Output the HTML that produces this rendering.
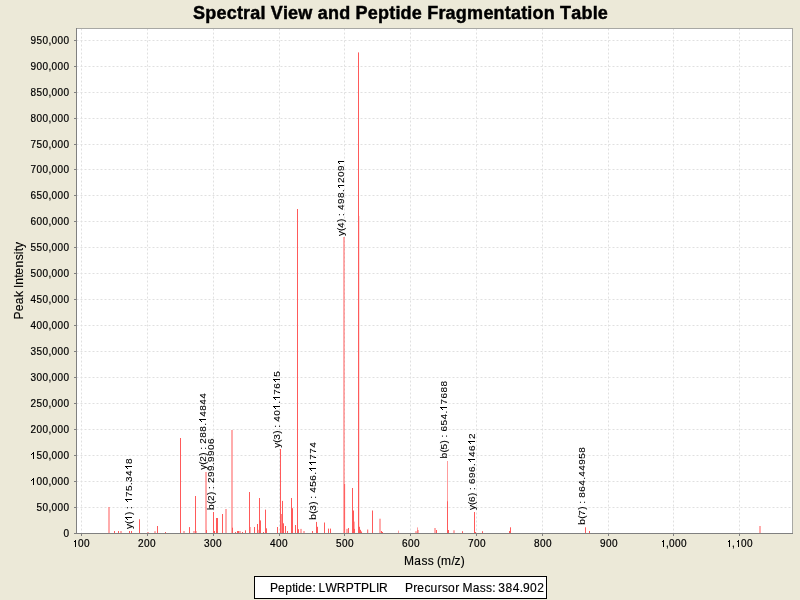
<!DOCTYPE html>
<html><head><meta charset="utf-8"><style>
html,body{margin:0;padding:0;background:#ECE9D8;}
svg{display:block;will-change:transform;}
text{font-family:"Liberation Sans",sans-serif;fill:#000;stroke:#000;stroke-width:0.15px;}
</style></head><body>
<svg width="800" height="600" viewBox="0 0 800 600" shape-rendering="crispEdges">
<rect x="0" y="0" width="800" height="600" fill="#ECE9D8"/>
<rect x="76" y="28" width="716" height="505" fill="#fff"/>
<rect x="74" y="533" width="2" height="1" fill="#808080"/>
<g transform="translate(63.5,537)"><text xml:space="preserve" x="0" y="0" style="font-size:10px;stroke-width:0.2px;">0</text></g>
<line x1="76" y1="507.5" x2="792" y2="507.5" stroke="#e0e0e0" stroke-width="1" stroke-dasharray="2 2" stroke-dashoffset="-0.5" shape-rendering="auto"/>
<rect x="74" y="507" width="2" height="1" fill="#808080"/>
<g transform="translate(36.5,511)"><text xml:space="preserve" x="0 6 12 15 21 27" y="0" style="font-size:10px;stroke-width:0.2px;">50,000</text></g>
<line x1="76" y1="481.5" x2="792" y2="481.5" stroke="#e0e0e0" stroke-width="1" stroke-dasharray="2 2" stroke-dashoffset="-0.5" shape-rendering="auto"/>
<rect x="74" y="481" width="2" height="1" fill="#808080"/>
<g transform="translate(30.5,485)"><text xml:space="preserve" x="6 12 18 21 27 33" y="0" style="font-size:10px;stroke-width:0.2px;">00,000</text><path transform="translate(0,0)" d="M3.72 0H2.84V-5.6C2.55-5.3 2.2-5.0 1.8-4.75C1.5-4.55 1.2-4.4 0.95-4.3V-5.1C1.45-5.35 1.8-5.65 2.2-6.05C2.6-6.45 2.95-6.9 3.16-7.16H3.72Z"/></g>
<line x1="76" y1="455.5" x2="792" y2="455.5" stroke="#e0e0e0" stroke-width="1" stroke-dasharray="2 2" stroke-dashoffset="-0.5" shape-rendering="auto"/>
<rect x="74" y="455" width="2" height="1" fill="#808080"/>
<g transform="translate(30.5,459)"><text xml:space="preserve" x="6 12 18 21 27 33" y="0" style="font-size:10px;stroke-width:0.2px;">50,000</text><path transform="translate(0,0)" d="M3.72 0H2.84V-5.6C2.55-5.3 2.2-5.0 1.8-4.75C1.5-4.55 1.2-4.4 0.95-4.3V-5.1C1.45-5.35 1.8-5.65 2.2-6.05C2.6-6.45 2.95-6.9 3.16-7.16H3.72Z"/></g>
<line x1="76" y1="429.5" x2="792" y2="429.5" stroke="#e0e0e0" stroke-width="1" stroke-dasharray="2 2" stroke-dashoffset="-0.5" shape-rendering="auto"/>
<rect x="74" y="429" width="2" height="1" fill="#808080"/>
<g transform="translate(30.5,433)"><text xml:space="preserve" x="0 6 12 18 21 27 33" y="0" style="font-size:10px;stroke-width:0.2px;">200,000</text></g>
<line x1="76" y1="403.5" x2="792" y2="403.5" stroke="#e0e0e0" stroke-width="1" stroke-dasharray="2 2" stroke-dashoffset="-0.5" shape-rendering="auto"/>
<rect x="74" y="403" width="2" height="1" fill="#808080"/>
<g transform="translate(30.5,407)"><text xml:space="preserve" x="0 6 12 18 21 27 33" y="0" style="font-size:10px;stroke-width:0.2px;">250,000</text></g>
<line x1="76" y1="377.5" x2="792" y2="377.5" stroke="#e0e0e0" stroke-width="1" stroke-dasharray="2 2" stroke-dashoffset="-0.5" shape-rendering="auto"/>
<rect x="74" y="377" width="2" height="1" fill="#808080"/>
<g transform="translate(30.5,381)"><text xml:space="preserve" x="0 6 12 18 21 27 33" y="0" style="font-size:10px;stroke-width:0.2px;">300,000</text></g>
<line x1="76" y1="351.5" x2="792" y2="351.5" stroke="#e0e0e0" stroke-width="1" stroke-dasharray="2 2" stroke-dashoffset="-0.5" shape-rendering="auto"/>
<rect x="74" y="351" width="2" height="1" fill="#808080"/>
<g transform="translate(30.5,355)"><text xml:space="preserve" x="0 6 12 18 21 27 33" y="0" style="font-size:10px;stroke-width:0.2px;">350,000</text></g>
<line x1="76" y1="325.5" x2="792" y2="325.5" stroke="#e0e0e0" stroke-width="1" stroke-dasharray="2 2" stroke-dashoffset="-0.5" shape-rendering="auto"/>
<rect x="74" y="325" width="2" height="1" fill="#808080"/>
<g transform="translate(30.5,329)"><text xml:space="preserve" x="0 6 12 18 21 27 33" y="0" style="font-size:10px;stroke-width:0.2px;">400,000</text></g>
<line x1="76" y1="299.5" x2="792" y2="299.5" stroke="#e0e0e0" stroke-width="1" stroke-dasharray="2 2" stroke-dashoffset="-0.5" shape-rendering="auto"/>
<rect x="74" y="299" width="2" height="1" fill="#808080"/>
<g transform="translate(30.5,303)"><text xml:space="preserve" x="0 6 12 18 21 27 33" y="0" style="font-size:10px;stroke-width:0.2px;">450,000</text></g>
<line x1="76" y1="273.5" x2="792" y2="273.5" stroke="#e0e0e0" stroke-width="1" stroke-dasharray="2 2" stroke-dashoffset="-0.5" shape-rendering="auto"/>
<rect x="74" y="273" width="2" height="1" fill="#808080"/>
<g transform="translate(30.5,277)"><text xml:space="preserve" x="0 6 12 18 21 27 33" y="0" style="font-size:10px;stroke-width:0.2px;">500,000</text></g>
<line x1="76" y1="247.5" x2="792" y2="247.5" stroke="#e0e0e0" stroke-width="1" stroke-dasharray="2 2" stroke-dashoffset="-0.5" shape-rendering="auto"/>
<rect x="74" y="247" width="2" height="1" fill="#808080"/>
<g transform="translate(30.5,251)"><text xml:space="preserve" x="0 6 12 18 21 27 33" y="0" style="font-size:10px;stroke-width:0.2px;">550,000</text></g>
<line x1="76" y1="221.5" x2="792" y2="221.5" stroke="#e0e0e0" stroke-width="1" stroke-dasharray="2 2" stroke-dashoffset="-0.5" shape-rendering="auto"/>
<rect x="74" y="221" width="2" height="1" fill="#808080"/>
<g transform="translate(30.5,225)"><text xml:space="preserve" x="0 6 12 18 21 27 33" y="0" style="font-size:10px;stroke-width:0.2px;">600,000</text></g>
<line x1="76" y1="195.5" x2="792" y2="195.5" stroke="#e0e0e0" stroke-width="1" stroke-dasharray="2 2" stroke-dashoffset="-0.5" shape-rendering="auto"/>
<rect x="74" y="195" width="2" height="1" fill="#808080"/>
<g transform="translate(30.5,199)"><text xml:space="preserve" x="0 6 12 18 21 27 33" y="0" style="font-size:10px;stroke-width:0.2px;">650,000</text></g>
<line x1="76" y1="169.5" x2="792" y2="169.5" stroke="#e0e0e0" stroke-width="1" stroke-dasharray="2 2" stroke-dashoffset="-0.5" shape-rendering="auto"/>
<rect x="74" y="169" width="2" height="1" fill="#808080"/>
<g transform="translate(30.5,173)"><text xml:space="preserve" x="0 6 12 18 21 27 33" y="0" style="font-size:10px;stroke-width:0.2px;">700,000</text></g>
<line x1="76" y1="144.5" x2="792" y2="144.5" stroke="#e0e0e0" stroke-width="1" stroke-dasharray="2 2" stroke-dashoffset="-0.5" shape-rendering="auto"/>
<rect x="74" y="144" width="2" height="1" fill="#808080"/>
<g transform="translate(30.5,148)"><text xml:space="preserve" x="0 6 12 18 21 27 33" y="0" style="font-size:10px;stroke-width:0.2px;">750,000</text></g>
<line x1="76" y1="118.5" x2="792" y2="118.5" stroke="#e0e0e0" stroke-width="1" stroke-dasharray="2 2" stroke-dashoffset="-0.5" shape-rendering="auto"/>
<rect x="74" y="118" width="2" height="1" fill="#808080"/>
<g transform="translate(30.5,122)"><text xml:space="preserve" x="0 6 12 18 21 27 33" y="0" style="font-size:10px;stroke-width:0.2px;">800,000</text></g>
<line x1="76" y1="92.5" x2="792" y2="92.5" stroke="#e0e0e0" stroke-width="1" stroke-dasharray="2 2" stroke-dashoffset="-0.5" shape-rendering="auto"/>
<rect x="74" y="92" width="2" height="1" fill="#808080"/>
<g transform="translate(30.5,96)"><text xml:space="preserve" x="0 6 12 18 21 27 33" y="0" style="font-size:10px;stroke-width:0.2px;">850,000</text></g>
<line x1="76" y1="66.5" x2="792" y2="66.5" stroke="#e0e0e0" stroke-width="1" stroke-dasharray="2 2" stroke-dashoffset="-0.5" shape-rendering="auto"/>
<rect x="74" y="66" width="2" height="1" fill="#808080"/>
<g transform="translate(30.5,70)"><text xml:space="preserve" x="0 6 12 18 21 27 33" y="0" style="font-size:10px;stroke-width:0.2px;">900,000</text></g>
<line x1="76" y1="40.5" x2="792" y2="40.5" stroke="#e0e0e0" stroke-width="1" stroke-dasharray="2 2" stroke-dashoffset="-0.5" shape-rendering="auto"/>
<rect x="74" y="40" width="2" height="1" fill="#808080"/>
<g transform="translate(30.5,44)"><text xml:space="preserve" x="0 6 12 18 21 27 33" y="0" style="font-size:10px;stroke-width:0.2px;">950,000</text></g>
<line x1="81.5" y1="28" x2="81.5" y2="533" stroke="#e0e0e0" stroke-width="1" stroke-dasharray="2 2" stroke-dashoffset="-0.5" shape-rendering="auto"/>
<rect x="81" y="533" width="1" height="3" fill="#808080"/>
<g transform="translate(72,547)"><text xml:space="preserve" x="6 12" y="0" style="font-size:10px;stroke-width:0.2px;">00</text><path transform="translate(0,0)" d="M3.72 0H2.84V-5.6C2.55-5.3 2.2-5.0 1.8-4.75C1.5-4.55 1.2-4.4 0.95-4.3V-5.1C1.45-5.35 1.8-5.65 2.2-6.05C2.6-6.45 2.95-6.9 3.16-7.16H3.72Z"/></g>
<line x1="147.5" y1="28" x2="147.5" y2="533" stroke="#e0e0e0" stroke-width="1" stroke-dasharray="2 2" stroke-dashoffset="-0.5" shape-rendering="auto"/>
<rect x="147" y="533" width="1" height="3" fill="#808080"/>
<g transform="translate(138,547)"><text xml:space="preserve" x="0 6 12" y="0" style="font-size:10px;stroke-width:0.2px;">200</text></g>
<line x1="213.5" y1="28" x2="213.5" y2="533" stroke="#e0e0e0" stroke-width="1" stroke-dasharray="2 2" stroke-dashoffset="-0.5" shape-rendering="auto"/>
<rect x="213" y="533" width="1" height="3" fill="#808080"/>
<g transform="translate(204,547)"><text xml:space="preserve" x="0 6 12" y="0" style="font-size:10px;stroke-width:0.2px;">300</text></g>
<line x1="279.5" y1="28" x2="279.5" y2="533" stroke="#e0e0e0" stroke-width="1" stroke-dasharray="2 2" stroke-dashoffset="-0.5" shape-rendering="auto"/>
<rect x="279" y="533" width="1" height="3" fill="#808080"/>
<g transform="translate(270,547)"><text xml:space="preserve" x="0 6 12" y="0" style="font-size:10px;stroke-width:0.2px;">400</text></g>
<line x1="344.5" y1="28" x2="344.5" y2="533" stroke="#e0e0e0" stroke-width="1" stroke-dasharray="2 2" stroke-dashoffset="-0.5" shape-rendering="auto"/>
<rect x="344" y="533" width="1" height="3" fill="#808080"/>
<g transform="translate(336,547)"><text xml:space="preserve" x="0 6 12" y="0" style="font-size:10px;stroke-width:0.2px;">500</text></g>
<line x1="410.5" y1="28" x2="410.5" y2="533" stroke="#e0e0e0" stroke-width="1" stroke-dasharray="2 2" stroke-dashoffset="-0.5" shape-rendering="auto"/>
<rect x="410" y="533" width="1" height="3" fill="#808080"/>
<g transform="translate(402,547)"><text xml:space="preserve" x="0 6 12" y="0" style="font-size:10px;stroke-width:0.2px;">600</text></g>
<line x1="476.5" y1="28" x2="476.5" y2="533" stroke="#e0e0e0" stroke-width="1" stroke-dasharray="2 2" stroke-dashoffset="-0.5" shape-rendering="auto"/>
<rect x="476" y="533" width="1" height="3" fill="#808080"/>
<g transform="translate(468,547)"><text xml:space="preserve" x="0 6 12" y="0" style="font-size:10px;stroke-width:0.2px;">700</text></g>
<line x1="542.5" y1="28" x2="542.5" y2="533" stroke="#e0e0e0" stroke-width="1" stroke-dasharray="2 2" stroke-dashoffset="-0.5" shape-rendering="auto"/>
<rect x="542" y="533" width="1" height="3" fill="#808080"/>
<g transform="translate(534,547)"><text xml:space="preserve" x="0 6 12" y="0" style="font-size:10px;stroke-width:0.2px;">800</text></g>
<line x1="608.5" y1="28" x2="608.5" y2="533" stroke="#e0e0e0" stroke-width="1" stroke-dasharray="2 2" stroke-dashoffset="-0.5" shape-rendering="auto"/>
<rect x="608" y="533" width="1" height="3" fill="#808080"/>
<g transform="translate(600,547)"><text xml:space="preserve" x="0 6 12" y="0" style="font-size:10px;stroke-width:0.2px;">900</text></g>
<line x1="673.5" y1="28" x2="673.5" y2="533" stroke="#e0e0e0" stroke-width="1" stroke-dasharray="2 2" stroke-dashoffset="-0.5" shape-rendering="auto"/>
<rect x="673" y="533" width="1" height="3" fill="#808080"/>
<g transform="translate(660,547)"><text xml:space="preserve" x="6 9 15 21" y="0" style="font-size:10px;stroke-width:0.2px;">,000</text><path transform="translate(0,0)" d="M3.72 0H2.84V-5.6C2.55-5.3 2.2-5.0 1.8-4.75C1.5-4.55 1.2-4.4 0.95-4.3V-5.1C1.45-5.35 1.8-5.65 2.2-6.05C2.6-6.45 2.95-6.9 3.16-7.16H3.72Z"/></g>
<line x1="739.5" y1="28" x2="739.5" y2="533" stroke="#e0e0e0" stroke-width="1" stroke-dasharray="2 2" stroke-dashoffset="-0.5" shape-rendering="auto"/>
<rect x="739" y="533" width="1" height="3" fill="#808080"/>
<g transform="translate(726,547)"><text xml:space="preserve" x="6 15 21" y="0" style="font-size:10px;stroke-width:0.2px;">,00</text><path transform="translate(0,0)" d="M3.72 0H2.84V-5.6C2.55-5.3 2.2-5.0 1.8-4.75C1.5-4.55 1.2-4.4 0.95-4.3V-5.1C1.45-5.35 1.8-5.65 2.2-6.05C2.6-6.45 2.95-6.9 3.16-7.16H3.72Z"/><path transform="translate(9,0)" d="M3.72 0H2.84V-5.6C2.55-5.3 2.2-5.0 1.8-4.75C1.5-4.55 1.2-4.4 0.95-4.3V-5.1C1.45-5.35 1.8-5.65 2.2-6.05C2.6-6.45 2.95-6.9 3.16-7.16H3.72Z"/></g>
<g shape-rendering="auto">
<rect x="108.50" y="507" width="1" height="26" fill="#ff5a5a"/>
<rect x="114.00" y="531" width="1" height="2" fill="#ff5a5a"/>
<rect x="118.00" y="531" width="1" height="2" fill="#ff5a5a"/>
<rect x="120.50" y="531" width="1" height="2" fill="#ff5a5a"/>
<rect x="129.00" y="531" width="1" height="2" fill="#ff5a5a"/>
<rect x="131.00" y="531" width="1" height="2" fill="#ff5a5a"/>
<rect x="139.00" y="519.25" width="1" height="13.75" fill="#ff5a5a"/>
<rect x="147.50" y="532" width="1" height="1" fill="#ff5a5a"/>
<rect x="154.50" y="531.2" width="1" height="1.7999999999999545" fill="#ff5a5a"/>
<rect x="157.00" y="526" width="1" height="7" fill="#ff5a5a"/>
<rect x="165.00" y="532" width="1" height="1" fill="#ff5a5a"/>
<rect x="180.00" y="438" width="1" height="95" fill="#ff5a5a"/>
<rect x="183.50" y="531" width="1" height="2" fill="#ff5a5a"/>
<rect x="189.00" y="527.1" width="1" height="5.899999999999977" fill="#ff5a5a"/>
<rect x="195.00" y="496" width="1" height="37" fill="#ff5a5a"/>
<rect x="193.50" y="531" width="1" height="2" fill="#ff5a5a"/>
<rect x="195.50" y="531" width="1" height="2" fill="#ff5a5a"/>
<rect x="205.50" y="472" width="1" height="61" fill="#ff5a5a"/>
<rect x="206.00" y="530" width="1" height="3" fill="#ff5a5a"/>
<rect x="213.00" y="512" width="1" height="21" fill="#ff5a5a"/>
<rect x="214.00" y="531" width="1" height="2" fill="#ff5a5a"/>
<rect x="216.00" y="518" width="1" height="15" fill="#ff5a5a"/>
<rect x="217.00" y="518" width="1" height="15" fill="#ff5a5a"/>
<rect x="222.00" y="514" width="1" height="19" fill="#ff5a5a"/>
<rect x="225.50" y="509" width="1" height="24" fill="#ff5a5a"/>
<rect x="231.50" y="430" width="1" height="103" fill="#ff5a5a"/>
<rect x="232.00" y="527.7" width="1" height="5.2999999999999545" fill="#ff5a5a"/>
<rect x="235.00" y="532" width="1" height="1" fill="#ff5a5a"/>
<rect x="237.00" y="531" width="1" height="2" fill="#ff5a5a"/>
<rect x="238.00" y="531" width="1" height="2" fill="#ff5a5a"/>
<rect x="239.50" y="531" width="1" height="2" fill="#ff5a5a"/>
<rect x="242.00" y="532" width="1" height="1" fill="#ff5a5a"/>
<rect x="245.00" y="530.3" width="1" height="2.7000000000000455" fill="#ff5a5a"/>
<rect x="249.00" y="492" width="1" height="41" fill="#ff5a5a"/>
<rect x="249.50" y="527" width="1" height="6" fill="#ff5a5a"/>
<rect x="254.00" y="527" width="1" height="6" fill="#ff5a5a"/>
<rect x="257.00" y="524" width="1" height="9" fill="#ff5a5a"/>
<rect x="258.00" y="529.8" width="1" height="3.2000000000000455" fill="#ff5a5a" fill-opacity="0.5"/>
<rect x="259.00" y="498" width="1" height="35" fill="#ff5a5a"/>
<rect x="260.00" y="520.4" width="1" height="12.600000000000023" fill="#ff5a5a"/>
<rect x="263.00" y="532" width="1" height="1" fill="#ff5a5a"/>
<rect x="265.00" y="509.6" width="1" height="23.399999999999977" fill="#ff5a5a"/>
<rect x="266.00" y="528.3" width="1" height="4.7000000000000455" fill="#ff5a5a"/>
<rect x="277.00" y="527" width="1" height="6" fill="#ff5a5a"/>
<rect x="280.00" y="449" width="1" height="84" fill="#ff5a5a"/>
<rect x="281.00" y="514" width="1" height="19" fill="#ff5a5a" fill-opacity="0.7"/>
<rect x="282.00" y="500.9" width="1" height="32.10000000000002" fill="#ff5a5a"/>
<rect x="283.00" y="523.3" width="1" height="9.700000000000045" fill="#ff5a5a"/>
<rect x="285.00" y="526" width="1" height="7" fill="#ff5a5a"/>
<rect x="287.00" y="531" width="1" height="2" fill="#ff5a5a"/>
<rect x="291.00" y="498" width="1" height="35" fill="#ff5a5a"/>
<rect x="292.00" y="508.2" width="1" height="24.80000000000001" fill="#ff5a5a"/>
<rect x="295.00" y="525" width="1" height="8" fill="#ff5a5a"/>
<rect x="297.00" y="209" width="1" height="324" fill="#ff5a5a"/>
<rect x="298.00" y="529.2" width="1" height="3.7999999999999545" fill="#ff5a5a"/>
<rect x="300.50" y="528.9" width="1" height="4.100000000000023" fill="#ff5a5a"/>
<rect x="303.50" y="531" width="1" height="2" fill="#ff5a5a"/>
<rect x="312.00" y="531" width="1" height="2" fill="#ff5a5a"/>
<rect x="316.00" y="521.9" width="1" height="11.100000000000023" fill="#ff5a5a"/>
<rect x="317.00" y="526.8" width="1" height="6.2000000000000455" fill="#ff5a5a"/>
<rect x="324.00" y="522.5" width="1" height="10.5" fill="#ff5a5a"/>
<rect x="328.00" y="528.6" width="1" height="4.399999999999977" fill="#ff5a5a"/>
<rect x="330.00" y="528.6" width="1" height="4.399999999999977" fill="#ff5a5a"/>
<rect x="343.50" y="237" width="1" height="296" fill="#ff5a5a"/>
<rect x="344.10" y="484" width="1" height="49" fill="#ff5a5a"/>
<rect x="346.50" y="528.9" width="1" height="4.100000000000023" fill="#ff5a5a"/>
<rect x="348.00" y="528" width="1" height="5" fill="#ff5a5a"/>
<rect x="352.00" y="488" width="1" height="45" fill="#ff5a5a"/>
<rect x="353.00" y="510.5" width="1" height="22.5" fill="#ff5a5a"/>
<rect x="353.50" y="521.6" width="1" height="11.399999999999977" fill="#ff5a5a"/>
<rect x="354.00" y="528.9" width="1" height="4.100000000000023" fill="#ff5a5a"/>
<rect x="358.00" y="52.4" width="1" height="480.6" fill="#ff5a5a"/>
<rect x="358.50" y="216" width="1" height="317" fill="#ff5a5a" fill-opacity="0.4"/>
<rect x="359.00" y="526.8" width="1" height="6.2000000000000455" fill="#ff5a5a"/>
<rect x="360.00" y="529.8" width="1" height="3.2000000000000455" fill="#ff5a5a"/>
<rect x="361.00" y="531.5" width="1" height="1.5" fill="#ff5a5a"/>
<rect x="367.20" y="529.5" width="1" height="3.5" fill="#ff5a5a"/>
<rect x="372.00" y="510.5" width="1" height="22.5" fill="#ff5a5a"/>
<rect x="379.50" y="518.7" width="1" height="14.299999999999955" fill="#ff5a5a"/>
<rect x="381.00" y="531" width="1" height="2" fill="#ff5a5a"/>
<rect x="382.00" y="532" width="1" height="1" fill="#ff5a5a"/>
<rect x="398.00" y="530.6" width="1" height="2.3999999999999773" fill="#ff5a5a" fill-opacity="0.6"/>
<rect x="415.50" y="531.2" width="1" height="1.7999999999999545" fill="#ff5a5a"/>
<rect x="417.00" y="527.4" width="1" height="5.600000000000023" fill="#ff5a5a" fill-opacity="0.6"/>
<rect x="417.50" y="530" width="1" height="3" fill="#ff5a5a"/>
<rect x="434.50" y="528" width="1" height="5" fill="#ff5a5a"/>
<rect x="436.00" y="530" width="1" height="3" fill="#ff5a5a"/>
<rect x="447.00" y="461" width="1" height="72" fill="#ff5a5a" fill-opacity="0.6"/>
<rect x="447.00" y="501.3" width="1" height="31.69999999999999" fill="#ff5a5a"/>
<rect x="448.00" y="530" width="1" height="3" fill="#ff5a5a"/>
<rect x="453.50" y="530.3" width="1" height="2.7000000000000455" fill="#ff5a5a"/>
<rect x="462.00" y="531.2" width="1" height="1.7999999999999545" fill="#ff5a5a"/>
<rect x="474.00" y="512" width="1" height="21" fill="#ff5a5a"/>
<rect x="475.00" y="532" width="1" height="1" fill="#ff5a5a"/>
<rect x="482.00" y="531.2" width="1" height="1.7999999999999545" fill="#ff5a5a"/>
<rect x="509.00" y="531" width="1" height="2" fill="#ff5a5a"/>
<rect x="510.00" y="527.3" width="1" height="5.7000000000000455" fill="#ff5a5a"/>
<rect x="585.00" y="527.3" width="1" height="5.7000000000000455" fill="#ff5a5a"/>
<rect x="589.00" y="531" width="1" height="2" fill="#ff5a5a"/>
<rect x="759.50" y="526" width="1" height="7" fill="#ff5a5a"/>
</g>
<g transform="translate(132,529) rotate(-90) scale(1,0.94)"><text xml:space="preserve" x="0 5 14 17 20 23 32 38 44 47 53 65" y="0" style="font-size:10px;stroke-width:0.08px;">y() : 75.348</text><path transform="translate(8,0)" d="M3.72 0H2.84V-5.6C2.55-5.3 2.2-5.0 1.8-4.75C1.5-4.55 1.2-4.4 0.95-4.3V-5.1C1.45-5.35 1.8-5.65 2.2-6.05C2.6-6.45 2.95-6.9 3.16-7.16H3.72Z"/><path transform="translate(26,0)" d="M3.72 0H2.84V-5.6C2.55-5.3 2.2-5.0 1.8-4.75C1.5-4.55 1.2-4.4 0.95-4.3V-5.1C1.45-5.35 1.8-5.65 2.2-6.05C2.6-6.45 2.95-6.9 3.16-7.16H3.72Z"/><path transform="translate(59,0)" d="M3.72 0H2.84V-5.6C2.55-5.3 2.2-5.0 1.8-4.75C1.5-4.55 1.2-4.4 0.95-4.3V-5.1C1.45-5.35 1.8-5.65 2.2-6.05C2.6-6.45 2.95-6.9 3.16-7.16H3.72Z"/></g>
<g transform="translate(206.2,469.75) rotate(-90) scale(1,0.94)"><text xml:space="preserve" x="0 5 8 14 17 20 23 26 32 38 44 53 59 65 71" y="0" style="font-size:10px;stroke-width:0.08px;">y(2) : 288.4844</text><path transform="translate(47,0)" d="M3.72 0H2.84V-5.6C2.55-5.3 2.2-5.0 1.8-4.75C1.5-4.55 1.2-4.4 0.95-4.3V-5.1C1.45-5.35 1.8-5.65 2.2-6.05C2.6-6.45 2.95-6.9 3.16-7.16H3.72Z"/></g>
<g transform="translate(213.75,509.9) rotate(-90) scale(1,0.94)"><text xml:space="preserve" x="0 6 9 15 18 21 24 27 33 39 45 48 54 60 66" y="0" style="font-size:10px;stroke-width:0.08px;">b(2) : 299.9906</text></g>
<g transform="translate(280,447.7) rotate(-90) scale(1,0.94)"><text xml:space="preserve" x="0 5 8 14 17 20 23 26 32 44 53 59 71" y="0" style="font-size:10px;stroke-width:0.08px;">y(3) : 40.765</text><path transform="translate(38,0)" d="M3.72 0H2.84V-5.6C2.55-5.3 2.2-5.0 1.8-4.75C1.5-4.55 1.2-4.4 0.95-4.3V-5.1C1.45-5.35 1.8-5.65 2.2-6.05C2.6-6.45 2.95-6.9 3.16-7.16H3.72Z"/><path transform="translate(47,0)" d="M3.72 0H2.84V-5.6C2.55-5.3 2.2-5.0 1.8-4.75C1.5-4.55 1.2-4.4 0.95-4.3V-5.1C1.45-5.35 1.8-5.65 2.2-6.05C2.6-6.45 2.95-6.9 3.16-7.16H3.72Z"/><path transform="translate(65,0)" d="M3.72 0H2.84V-5.6C2.55-5.3 2.2-5.0 1.8-4.75C1.5-4.55 1.2-4.4 0.95-4.3V-5.1C1.45-5.35 1.8-5.65 2.2-6.05C2.6-6.45 2.95-6.9 3.16-7.16H3.72Z"/></g>
<g transform="translate(316,519.8) rotate(-90) scale(1,0.94)"><text xml:space="preserve" x="0 6 9 15 18 21 24 27 33 39 45 60 66 72" y="0" style="font-size:10px;stroke-width:0.08px;">b(3) : 456.774</text><path transform="translate(48,0)" d="M3.72 0H2.84V-5.6C2.55-5.3 2.2-5.0 1.8-4.75C1.5-4.55 1.2-4.4 0.95-4.3V-5.1C1.45-5.35 1.8-5.65 2.2-6.05C2.6-6.45 2.95-6.9 3.16-7.16H3.72Z"/><path transform="translate(54,0)" d="M3.72 0H2.84V-5.6C2.55-5.3 2.2-5.0 1.8-4.75C1.5-4.55 1.2-4.4 0.95-4.3V-5.1C1.45-5.35 1.8-5.65 2.2-6.05C2.6-6.45 2.95-6.9 3.16-7.16H3.72Z"/></g>
<g transform="translate(344.3,236) rotate(-90) scale(1,0.94)"><text xml:space="preserve" x="0 5 8 14 17 20 23 26 32 38 44 53 59 65" y="0" style="font-size:10px;stroke-width:0.08px;">y(4) : 498.209</text><path transform="translate(47,0)" d="M3.72 0H2.84V-5.6C2.55-5.3 2.2-5.0 1.8-4.75C1.5-4.55 1.2-4.4 0.95-4.3V-5.1C1.45-5.35 1.8-5.65 2.2-6.05C2.6-6.45 2.95-6.9 3.16-7.16H3.72Z"/><path transform="translate(71,0)" d="M3.72 0H2.84V-5.6C2.55-5.3 2.2-5.0 1.8-4.75C1.5-4.55 1.2-4.4 0.95-4.3V-5.1C1.45-5.35 1.8-5.65 2.2-6.05C2.6-6.45 2.95-6.9 3.16-7.16H3.72Z"/></g>
<g transform="translate(447,458.6) rotate(-90) scale(1,0.94)"><text xml:space="preserve" x="0 6 9 15 18 21 24 27 33 39 45 54 60 66 72" y="0" style="font-size:10px;stroke-width:0.08px;">b(5) : 654.7688</text><path transform="translate(48,0)" d="M3.72 0H2.84V-5.6C2.55-5.3 2.2-5.0 1.8-4.75C1.5-4.55 1.2-4.4 0.95-4.3V-5.1C1.45-5.35 1.8-5.65 2.2-6.05C2.6-6.45 2.95-6.9 3.16-7.16H3.72Z"/></g>
<g transform="translate(475,509.9) rotate(-90) scale(1,0.94)"><text xml:space="preserve" x="0 5 8 14 17 20 23 26 32 38 44 53 59 71" y="0" style="font-size:10px;stroke-width:0.08px;">y(6) : 696.462</text><path transform="translate(47,0)" d="M3.72 0H2.84V-5.6C2.55-5.3 2.2-5.0 1.8-4.75C1.5-4.55 1.2-4.4 0.95-4.3V-5.1C1.45-5.35 1.8-5.65 2.2-6.05C2.6-6.45 2.95-6.9 3.16-7.16H3.72Z"/><path transform="translate(65,0)" d="M3.72 0H2.84V-5.6C2.55-5.3 2.2-5.0 1.8-4.75C1.5-4.55 1.2-4.4 0.95-4.3V-5.1C1.45-5.35 1.8-5.65 2.2-6.05C2.6-6.45 2.95-6.9 3.16-7.16H3.72Z"/></g>
<g transform="translate(585.1,524.8) rotate(-90) scale(1,0.94)"><text xml:space="preserve" x="0 6 9 15 18 21 24 27 33 39 45 48 54 60 66 72" y="0" style="font-size:10px;stroke-width:0.08px;">b(7) : 864.44958</text></g>
<rect x="76" y="28" width="716" height="1" fill="#a8a8a4"/>
<rect x="792" y="28" width="1" height="506" fill="#a8a8a4"/>
<rect x="76" y="28" width="1" height="506" fill="#808080"/>
<rect x="76" y="533" width="717" height="1" fill="#808080"/>
<g transform="translate(193,19)"><text xml:space="preserve" x="0 12.27 23.51 33.74 43.98 50.1 57.26 67.5 72.61 77.72 89.99 95.1 105.34 119.65 124.76 134.99 146.23 157.47 162.58 174.85 185.09 196.33 202.45 207.56 218.8 229.04 234.15 245.39 252.55 262.78 274.02 290.38 300.61 311.85 317.98 328.21 334.34 339.45 350.69 361.93 367.04 378.28 388.51 399.75 404.86" y="0" style="font-size:18px;font-weight:bold;stroke-width:0.45px;">Spectral View and Peptide Fragmentation Table</text></g>
<g transform="translate(23,319.5) rotate(-90)"><text xml:space="preserve" x="0 8.16 15.3 22.44 28.56 31.62 34.68 41.82 44.88 52.02 59.16 65.28 68.34 71.4" y="0" style="font-size:12px;">Peak Intensity</text></g>
<g transform="translate(404,565)"><text xml:space="preserve" x="0 10.3 17.51 23.69 29.87 32.96 37.08 47.38 50.47 56.65" y="0" style="font-size:12px;">Mass (m/z)</text></g>
<rect x="254.5" y="576.5" width="292" height="22" fill="#fff" stroke="#000" stroke-width="1"/>
<g transform="translate(270,592)"><text xml:space="preserve" x="0 8.08 15.15 22.22 25.25 28.28 35.35 42.42 45.45 48.48 55.55 66.66 75.75 83.83 90.9 98.98 106.05 109.08" y="0" style="font-size:12px;">Peptide: LWRPTPLIR</text></g>
<g transform="translate(405,592)"><text xml:space="preserve" x="0 8.2 12.3 19.47 25.62 32.8 36.9 43.05 50.22 54.32 57.4 67.65 74.83 80.98 87.13 90.2 93.28 100.45 107.63 114.8 117.88 125.05 132.23" y="0" style="font-size:12px;">Precursor Mass: 384.902</text></g>
</svg></body></html>
